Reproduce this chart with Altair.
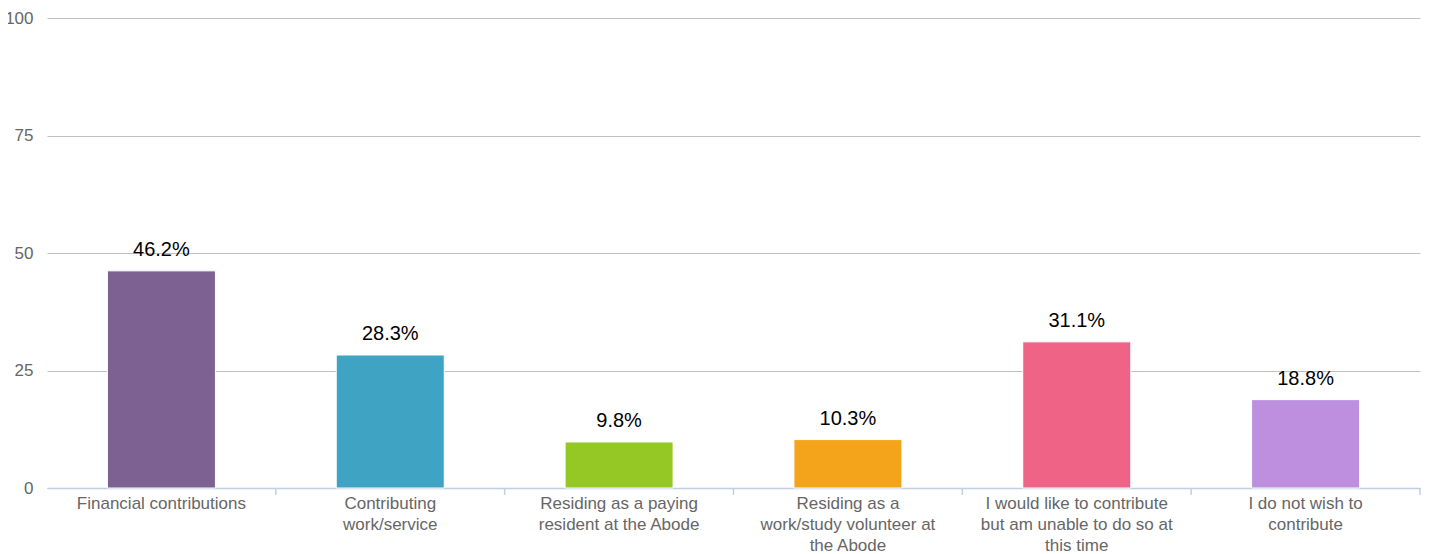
import altair as alt
import pandas as pd

categories = [
    "Financial contributions",
    "Contributing|work/service",
    "Residing as a paying|resident at the Abode",
    "Residing as a|work/study volunteer at|the Abode",
    "I would like to contribute|but am unable to do so at|this time",
    "I do not wish to|contribute",
]
values = [46.2, 28.3, 9.8, 10.3, 31.1, 18.8]
colors = ["#7d6192", "#3fa4c3", "#95c825", "#f4a41b", "#ef6486", "#bd8fde"]
y_ticks = [0, 25, 50, 75, 100]

df = pd.DataFrame({"cat": categories, "value": values, "color": colors})

FONT = "Liberation Sans"

x_enc = alt.X(
    "cat:N",
    sort=categories,
    title=None,
    scale=alt.Scale(paddingInner=0, paddingOuter=0),
    axis=alt.Axis(
        labelExpr="split(datum.label, '|')",
        labelAngle=0,
        labelFontSize=17,
        labelColor="#666666",
        labelFont=FONT,
        labelLineHeight=21,
        labelPadding=7,
        labelLimit=400,
        ticks=False,
        domainColor="#c0d0e0",
        domainWidth=1.5,
        grid=False,
    ),
)

y_enc = alt.Y(
    "value:Q",
    title=None,
    scale=alt.Scale(domain=[0, 100], nice=False),
    axis=alt.Axis(
        values=y_ticks,
        labelFontSize=17,
        labelColor="#666666",
        labelFont=FONT,
        labelPadding=14,
        ticks=False,
        domain=False,
        gridColor="#c0c0c0",
        gridWidth=1,
    ),
)

base = alt.Chart(df)

bars = base.mark_bar(
    width=alt.RelativeBandSize(0.472), stroke="white", strokeWidth=1
).encode(
    x=x_enc,
    y=y_enc,
    color=alt.Color("color:N", scale=None, legend=None),
)

labels = base.transform_calculate(
    lbl="format(datum.value, '.1f') + '%'"
).mark_text(
    fontSize=20, font=FONT, color="#000000", baseline="alphabetic", dy=-15
).encode(
    x=alt.X("cat:N", sort=categories),
    y=alt.Y("value:Q"),
    text="lbl:N",
)

ticks = base.mark_rule(color="#c0d0e0", strokeWidth=1.5).encode(
    x=alt.X("cat:N", sort=categories, bandPosition=1),
    y=alt.value(470),
    y2=alt.value(477),
)

chart = (
    alt.layer(bars, labels, ticks)
    .properties(
        width=1373,
        height=470,
        padding={"left": 39, "top": 10, "right": 2, "bottom": 66},
        autosize=alt.AutoSizeParams(type="none"),
        background="white",
    )
    .configure_view(strokeWidth=0)
)

chart.save("out.html", embed_options={"renderer": "svg", "actions": False})
